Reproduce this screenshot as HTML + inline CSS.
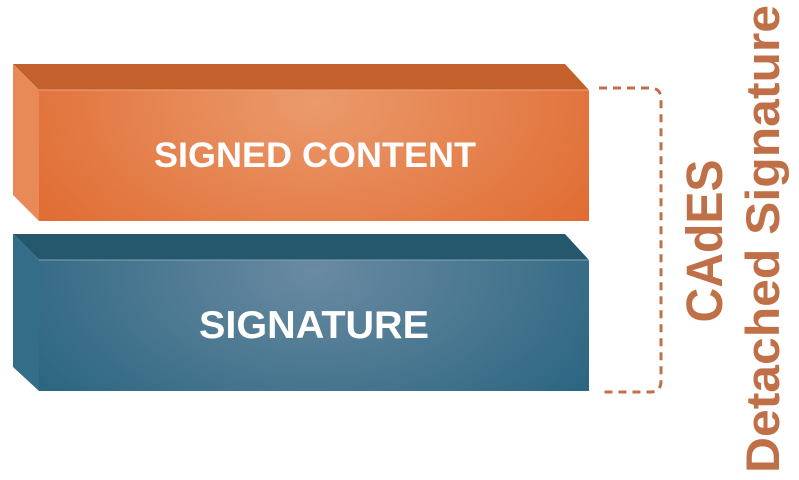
<!DOCTYPE html>
<html><head><meta charset="utf-8"><style>
html,body{margin:0;padding:0;background:#fff;}
svg{display:block;}
</style></head><body>
<svg width="799" height="480" viewBox="0 0 799 480" xmlns="http://www.w3.org/2000/svg">
<defs>
<radialGradient id="og" cx="0.5" cy="0.1" r="0.6" gradientTransform="translate(0.5 0.1) scale(1 2.5) translate(-0.5 -0.1)">
<stop offset="0" stop-color="#eb9a6c"/><stop offset="1" stop-color="#e06d34"/></radialGradient>
<radialGradient id="bg" cx="0.5" cy="0.1" r="0.6" gradientTransform="translate(0.5 0.1) scale(1 2.5) translate(-0.5 -0.1)">
<stop offset="0" stop-color="#6a8aa2"/><stop offset="1" stop-color="#2c6681"/></radialGradient>
</defs>
<polygon points="13,64 565,64 589,90 39,90" fill="#c4602c"/>
<polygon points="13,64 39,90 39,221 13,195" fill="#e88a57"/>
<rect x="39" y="90" width="550" height="131" fill="url(#og)"/>
<line x1="39" y1="90" x2="589" y2="90" stroke="#f0a57c" stroke-width="1"/>
<polygon points="13,234 565,234 589,260 39,260" fill="#25586d"/>
<polygon points="13,234 39,260 39,391 13,367" fill="#346d87"/>
<rect x="39" y="260" width="550" height="131" fill="url(#bg)"/>
<line x1="39" y1="260" x2="589" y2="260" stroke="#7ea3b8" stroke-width="1"/>
<text x="315" y="167" text-anchor="middle" font-family="Liberation Sans, sans-serif" font-weight="bold" font-size="35" fill="#fff" textLength="322" lengthAdjust="spacingAndGlyphs">SIGNED CONTENT</text>
<text x="314" y="338" text-anchor="middle" font-family="Liberation Sans, sans-serif" font-weight="bold" font-size="39" fill="#fff" textLength="230" lengthAdjust="spacingAndGlyphs">SIGNATURE</text>
<path d="M599,88 L650,88 Q661,88 661,99 L661,381 Q661,392 650,392 L599,392" fill="none" stroke="#c07047" stroke-width="3" stroke-dasharray="8,6"/>
<text transform="translate(722,241) rotate(-90)" text-anchor="middle" font-family="Liberation Sans, sans-serif" font-weight="bold" font-size="51" fill="#c07047" textLength="163" lengthAdjust="spacingAndGlyphs">CAdES</text>
<text transform="translate(779,239) rotate(-90)" text-anchor="middle" font-family="Liberation Sans, sans-serif" font-weight="bold" font-size="47" fill="#c07047" textLength="468" lengthAdjust="spacingAndGlyphs">Detached Signature</text>
</svg>
</body></html>
